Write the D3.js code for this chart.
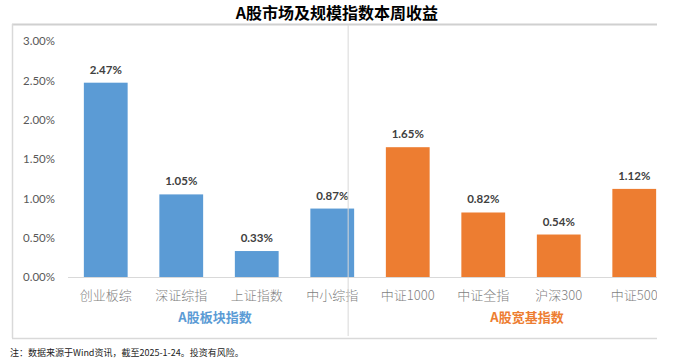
<!DOCTYPE html>
<html><head><meta charset="utf-8">
<script src="https://cdn.jsdelivr.net/npm/d3@7"></script>
<style>
html,body{margin:0;padding:0;background:#fff;}
svg{display:block;}
</style></head>
<body><svg id="c" width="674" height="364"></svg>
<script>
const title = "A股市场及规模指数本周收益";
const categories = ["创业板综","深证综指","上证指数","中小综指","中证1000","中证全指","沪深300","中证500"];
const values = [2.47,1.05,0.33,0.87,1.65,0.82,0.54,1.12];
const groups = ["A股板块指数","A股宽基指数"];
const groupOf = [0,0,0,0,1,1,1,1];
const yTicks = [0,0.5,1.0,1.5,2.0,2.5,3.0];
const footnote = "注：数据来源于Wind资讯，截至2025-1-24。投资有风险。";

const colors = ["#5b9bd5","#ed7d31"];
const svg = d3.select("#c");
const cjk = "'Noto Sans CJK SC', sans-serif";
const lat = "Lato, 'Open Sans', sans-serif";

const x = d3.scaleBand().domain(categories).range([68,672]).paddingInner(0.42).paddingOuter(0.21);
const y = d3.scaleLinear().domain([0,3]).range([277,41]);

svg.append("defs").append("clipPath").attr("id","clip")
  .append("rect").attr("x",0).attr("y",0).attr("width",657).attr("height",364);

svg.append("text").attr("x",337).attr("y",19).attr("text-anchor","middle")
  .attr("font-family",cjk).attr("font-weight","bold").attr("font-size",16).attr("fill","#000")
  .text(title);

const g = svg.append("g").attr("clip-path","url(#clip)");

// frame
g.append("line").attr("x1",12).attr("x2",672).attr("y1",24.5).attr("y2",24.5).attr("stroke","#d0d0d0").attr("stroke-width",2);
g.append("line").attr("x1",12).attr("x2",672).attr("y1",338.5).attr("y2",338.5).attr("stroke","#d9d9d9").attr("stroke-width",1.5);
g.append("line").attr("x1",12.5).attr("x2",12.5).attr("y1",24).attr("y2",338).attr("stroke","#d9d9d9").attr("stroke-width",1.5);

// y axis labels
const yAxis = d3.axisLeft(y).tickValues(yTicks).tickSize(0).tickPadding(0).tickFormat(d=>d.toFixed(2)+"%");
const ya = g.append("g").attr("transform","translate(55,0)").call(yAxis);
ya.select(".domain").remove();
ya.selectAll("text").attr("font-family",lat).attr("font-size",11.5).attr("fill","#595959");

// baseline
g.append("line").attr("x1",68).attr("x2",672).attr("y1",y(0)+0.5).attr("y2",y(0)+0.5).attr("stroke","#d9d9d9").attr("stroke-width",1);

// bars
g.selectAll("rect.bar").data(values).join("rect").attr("class","bar")
  .attr("x",(d,i)=>x(categories[i])).attr("width",x.bandwidth())
  .attr("y",d=>y(d)).attr("height",d=>y(0)-y(d))
  .attr("fill",(d,i)=>colors[groupOf[i]]);

// value labels
g.selectAll("text.val").data(values).join("text").attr("class","val")
  .attr("x",(d,i)=>x(categories[i])+x.bandwidth()/2).attr("y",d=>y(d)-9)
  .attr("text-anchor","middle").attr("font-family",lat).attr("font-weight","bold")
  .attr("font-size",11.5).attr("fill","#404040").text(d=>d.toFixed(2)+"%");

// category labels
g.selectAll("text.cat").data(categories).join("text").attr("class","cat")
  .attr("x",d=>x(d)+x.bandwidth()/2).attr("y",300)
  .attr("text-anchor","middle").attr("font-family",cjk).attr("font-weight",300)
  .attr("font-size",13).attr("fill","#7f7f7f").text(d=>d);

// divider
const divX = x(categories[3]) + x.bandwidth() - 6;
g.append("line").attr("x1",divX).attr("x2",divX).attr("y1",25).attr("y2",336).attr("stroke","#d9d9d9").attr("stroke-width",1);

// group labels
const gOff = [-4, 6];
groups.forEach((name,gi)=>{
  const idx = categories.map((c,i)=>i).filter(i=>groupOf[i]===gi);
  const cx = d3.mean(idx, i=>x(categories[i])+x.bandwidth()/2) + gOff[gi];
  g.append("text").attr("x",cx).attr("y",322).attr("text-anchor","middle")
    .attr("font-family",cjk).attr("font-weight","bold").attr("font-size",13)
    .attr("fill",colors[gi]).text(name);
});

svg.append("text").attr("x",10).attr("y",356).attr("font-family",cjk)
  .attr("font-size",9).attr("fill","#222").text(footnote);
</script></body></html>
